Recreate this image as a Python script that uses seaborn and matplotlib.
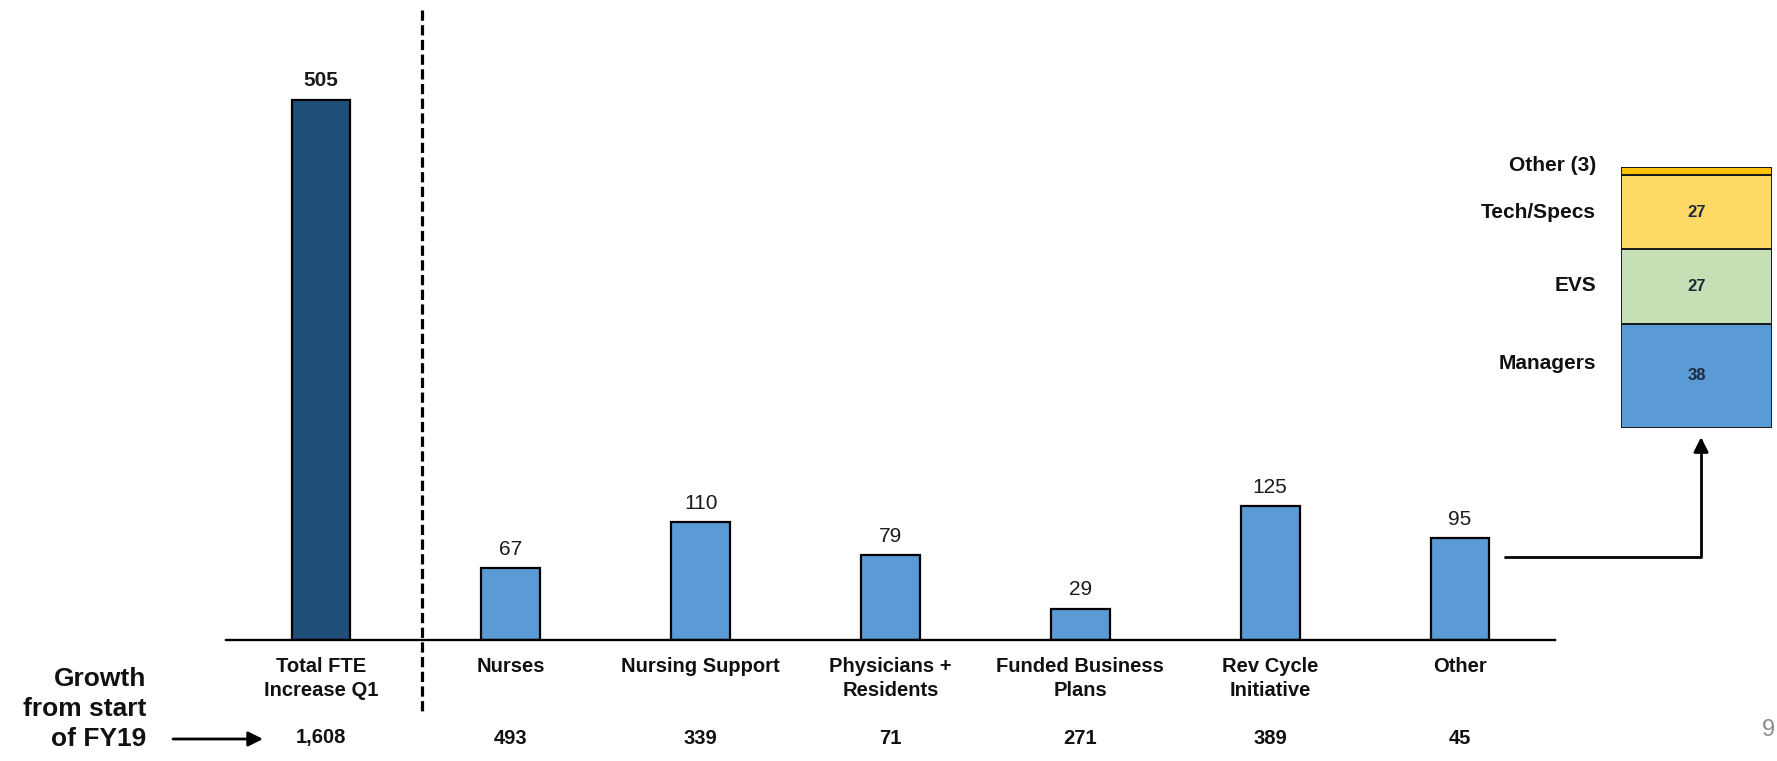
import matplotlib
matplotlib.use("Agg")
import matplotlib.pyplot as plt
import matplotlib.transforms as mtransforms
import seaborn as sns
import pandas as pd

# FTE increase by category (Q1)
categories = ["Total FTE\nIncrease Q1", "Nurses", "Nursing Support", "Physicians +\nResidents",
              "Funded Business\nPlans", "Rev Cycle\nInitiative", "Other"]
q1_increase = [505, 67, 110, 79, 29, 125, 95]
growth_since_fy19 = ["1,608", "493", "339", "71", "271", "389", "45"]

# Breakdown of the "Other" category
other_parts = ["Managers", "EVS", "Tech/Specs", "Other (3)"]
other_values = [38, 27, 27, 3]
other_show_value = [True, True, True, False]

bar_colors = ["#1F4E79"] + ["#5B9BD5"] * 6
part_colors = ["#5B9BD5", "#C5E0B4", "#FFD966", "#FFC000"]

sns.set_theme(style="white")
plt.rcParams["font.family"] = ["Liberation Sans", "DejaVu Sans"]

W, H = 1777, 761
fig = plt.figure(figsize=(W / 100, H / 100), dpi=100)
fig.patch.set_facecolor("white")

# main bar chart
ax = fig.add_axes([226 / W, (H - 640) / H, (1555 - 226) / W, 596 / H])
df = pd.DataFrame({"category": categories, "value": q1_increase})
sns.barplot(data=df, x="category", y="value", hue="category", palette=bar_colors,
            width=0.31, edgecolor="black", linewidth=1.6, legend=False, ax=ax,
            saturation=1)
ax.set_xlim(-0.5, len(categories) - 0.5)
ax.set_ylim(0, 557)
ax.set_xlabel("")
ax.set_ylabel("")
ax.set_yticks([])
for s in ["top", "right", "left"]:
    ax.spines[s].set_visible(False)
ax.spines["bottom"].set_color("black")
ax.spines["bottom"].set_linewidth(1.7)
ax.tick_params(axis="x", length=0, pad=12)
ax.set_xticks(range(len(categories)))
ax.set_xticklabels(categories, fontsize=14.5, fontweight="bold", color="#111111",
                   linespacing=1.35)

for i, v in enumerate(q1_increase):
    ax.annotate(f"{v}", xy=(i, v), xytext=(0, 7), textcoords="offset points",
                ha="center", va="bottom", fontsize=15,
                fontweight="bold" if i == 0 else "normal", color="#1a1a1a")

# growth-since-start-of-year row
row_tr = mtransforms.blended_transform_factory(ax.transData, fig.transFigure)
for i, g in enumerate(growth_since_fy19):
    ax.text(i, (H - 738) / H, g, transform=row_tr, ha="center", va="center",
            fontsize=14.5, fontweight="bold", color="#111111")

fig.text(146 / W, (H - 709) / H, "Growth\nfrom start\nof FY19", ha="right", va="center",
         multialignment="right", fontsize=19, fontweight="bold", linespacing=1.33,
         color="#111111")
ax.annotate("", xy=(263 / W, (H - 739) / H), xytext=(173 / W, (H - 739) / H),
            xycoords="figure fraction", textcoords="figure fraction",
            arrowprops=dict(arrowstyle="-|>", lw=2, color="black", mutation_scale=22,
                            shrinkA=0, shrinkB=0))

# separator between total and categories
ax.plot([0.53, 0.53], [(H - 10) / H, (H - 715) / H], transform=row_tr, color="black",
        lw=2.3, linestyle=(0, (3.2, 1.4)), clip_on=False)

# stacked breakdown of "Other"
sax = fig.add_axes([1621 / W, (H - 428) / H, 151 / W, 261 / H])
bottom = 0
mids = []
for name, val, col in zip(other_parts, other_values, part_colors):
    sax.bar(0, val, bottom=bottom, width=1.0, color=col, edgecolor="#1a1a1a", linewidth=1.4)
    mids.append(bottom + val / 2)
    bottom += val
sax.set_xlim(-0.5, 0.5)
sax.set_ylim(0, sum(other_values))
sax.axis("off")

label_dy = [12, 1, 0, 6]
for name, val, mid, show, dy in zip(other_parts, other_values, mids, other_show_value, label_dy):
    sax.annotate(name, xy=(-0.5, mid), xytext=(-18, dy * 0.72), textcoords="offset points",
                 ha="right", va="center", fontsize=15, fontweight="bold", color="#111111")
    if show:
        sax.text(0, mid, f"{val}", ha="center", va="center", fontsize=12,
                 fontweight="bold", color="#1f2a3a")

# connector from the Other bar to its breakdown
other_idx = categories.index("Other")
sax.annotate("", xy=(0.53, -0.035), xycoords=sax.transAxes,
             xytext=(other_idx + 0.237, 78), textcoords=ax.transData,
             arrowprops=dict(arrowstyle="-|>", lw=2, color="black", mutation_scale=22,
                             shrinkA=0, shrinkB=0,
                             connectionstyle="angle,angleA=0,angleB=90,rad=0"),
             annotation_clip=False)

fig.text(1768 / W, (H - 730) / H, "9", ha="center", va="center", fontsize=17, color="#8c8c8c")

fig.savefig("out.png", dpi=100, facecolor="white")
